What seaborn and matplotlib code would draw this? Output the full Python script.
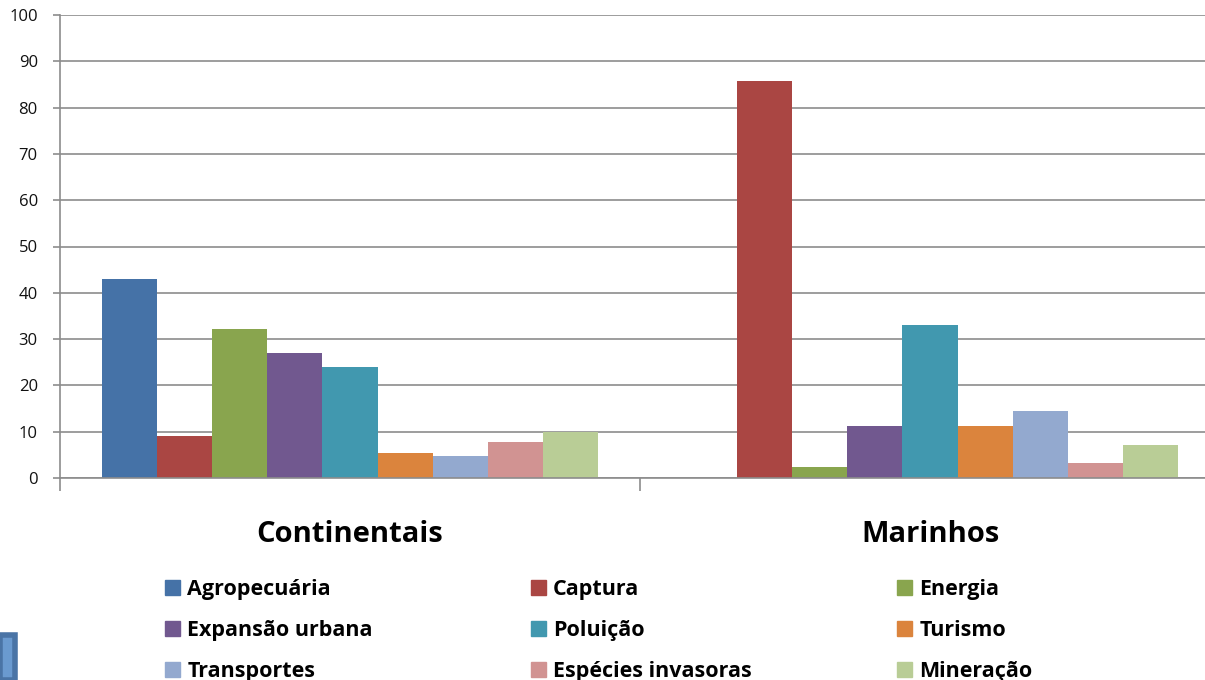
import pandas as pd
import matplotlib.pyplot as plt
import matplotlib.patches as mpatches
import seaborn as sns

# Data
groups = ["Continentais", "Marinhos"]
series = ["Agropecuária", "Captura", "Energia", "Expansão urbana", "Poluição",
          "Turismo", "Transportes", "Espécies invasoras", "Mineração"]
continentais = [43.0, 9.1, 32.2, 27.0, 24.0, 5.4, 4.8, 7.8, 9.9]
marinhos = [0.0, 85.7, 2.4, 11.2, 33.0, 11.2, 14.5, 3.2, 7.1]
colors = ["#4572A7", "#AA4643", "#89A54E", "#71588F", "#4198AF",
          "#DB843D", "#93A9CF", "#D19392", "#B9CD96"]

df = pd.DataFrame({
    "grupo": [groups[0]] * len(series) + [groups[1]] * len(series),
    "ameaca": series * 2,
    "valor": continentais + marinhos,
})

sns.set_theme(style="white")
plt.rcParams['font.family'] = ['Open Sans', 'DejaVu Sans']

W, H = 1205, 680
fig = plt.figure(figsize=(W / 100, H / 100), dpi=100)
ax = fig.add_axes([60 / W, 1 - 478 / H, 1160 / W, 463 / H])

sns.barplot(data=df, x="grupo", y="valor", hue="ameaca", hue_order=series,
            palette=colors, width=0.855, saturation=1, legend=False, ax=ax,
            linewidth=0, errorbar=None)

ax.set_xlim(-0.5, 1.5)
ax.set_ylim(0, 100)
ax.set_yticks(range(0, 101, 10))
ax.yaxis.grid(True, color="#8C8C8C", linewidth=1.2)
ax.set_axisbelow(True)
ax.set_xlabel("")
ax.set_ylabel("")

for side in ["top", "right"]:
    ax.spines[side].set_visible(False)
for side in ["left", "bottom"]:
    ax.spines[side].set_color("#8C8C8C")
    ax.spines[side].set_linewidth(1.2)

ax.tick_params(axis="y", which="major", left=True, length=5, width=1.2,
               color="#8C8C8C", labelsize=12, pad=11, labelcolor="#111111")
ax.set_xticks([0, 1])
ax.set_xticklabels(groups, fontsize=21, fontweight="bold", color="black")
ax.tick_params(axis="x", which="major", length=0, pad=30)
ax.set_xticks([-0.5, 0.5], minor=True)
ax.tick_params(axis="x", which="minor", bottom=True, length=9, width=1.2,
               color="#8C8C8C")

# Legend: three columns, rows filled left to right
handles = [mpatches.Patch(color=c, label=s) for s, c in zip(series, colors)]
col_x = [165, 531, 897]
for j, x in enumerate(col_x):
    idx = [j, j + 3, j + 6]
    leg = fig.legend([handles[i] for i in idx], [series[i] for i in idx],
                     loc="upper left", bbox_to_anchor=(x / W, 1 - 579 / H),
                     ncol=1, frameon=False,
                     prop={"family": "Open Sans", "size": 15.5, "weight": "bold"},
                     handlelength=0.7, handleheight=0.7, handletextpad=0.33,
                     labelspacing=0.93, borderpad=0, borderaxespad=0)
    for t in leg.get_texts():
        t.set_color("black")

# slide leftovers in the lower left corner
fig.patches.append(mpatches.Rectangle((0, 0), 15 / W, 45 / H, transform=fig.transFigure,
                                      facecolor="#6A9AD0", edgecolor="#4A74A6",
                                      linewidth=4, figure=fig))

plt.savefig("out.png", dpi=100)
plt.close()
